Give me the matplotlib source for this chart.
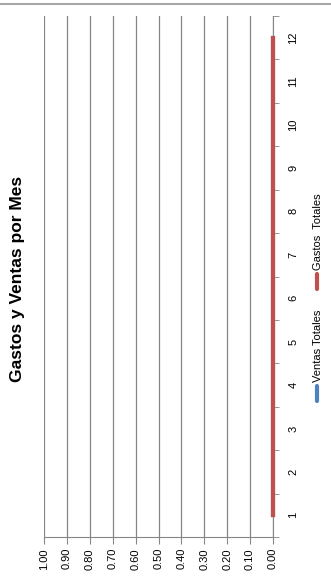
import numpy as np
import matplotlib.pyplot as plt
from matplotlib.lines import Line2D

# data (chart is drawn rotated 90 degrees, as in the original)
months = [1, 2, 3, 4, 5, 6, 7, 8, 9, 10, 11, 12]
ventas = [0, 0, 0, 0, 0, 0, 0, 0, 0, 0, 0, 0]
gastos = [0, 0, 0, 0, 0, 0, 0, 0, 0, 0, 0, 0]
value_ticks = [0.0, 0.1, 0.2, 0.3, 0.4, 0.5, 0.6, 0.7, 0.8, 0.9, 1.0]

plt.rcParams['font.family'] = ['Liberation Sans', 'DejaVu Sans']

fig = plt.figure(figsize=(3.31, 5.77), dpi=100)
ax = fig.add_axes([44 / 331, 40 / 577, 229 / 331, 521 / 577])

ax.plot(ventas, months, color='#4F81BD', lw=3, clip_on=False, zorder=3)
ax.plot(gastos, months, color='#C0504D', lw=3, clip_on=False, zorder=4)

ax.set_xlim(1.0, 0.0)
ax.set_ylim(0.5, 12.5)

ax.set_xticks(value_ticks)
ax.set_xticklabels(['%.2f' % v for v in value_ticks], rotation=90, fontsize=8)
ax.grid(axis='x', color='#868686', lw=0.9)
ax.set_axisbelow(True)

ax.yaxis.tick_right()
ax.set_yticks(months)
ax.set_yticklabels([str(m) for m in months], rotation=90, fontsize=8, va='center')
ax.tick_params(axis='y', length=0, pad=11)
ax.set_yticks(np.arange(0.5, 13, 1), minor=True)
ax.tick_params(axis='y', which='minor', length=4, color='#868686', right=True, left=False)
ax.tick_params(axis='x', length=5, color='#868686', pad=3)

for s in ['top', 'left']:
    ax.spines[s].set_visible(False)
ax.spines['right'].set_color('#868686')
ax.spines['bottom'].set_color('#868686')

# title
fig.text(18 / 331, 1 - 279 / 577, 'Gastos y Ventas por Mes', rotation=90,
         fontsize=12.5, fontweight='bold', ha='center', va='center')

# legend drawn rotated
fig.add_artist(Line2D([317 / 331, 317 / 331], [1 - 401 / 577, 1 - 386 / 577],
                      color='#4F81BD', lw=3, solid_capstyle='round'))
fig.text(318 / 331, 1 - 382 / 577, 'Ventas Totales', rotation=90, fontsize=8,
         ha='center', va='bottom')
fig.add_artist(Line2D([317 / 331, 317 / 331], [1 - 289 / 577, 1 - 274 / 577],
                      color='#C0504D', lw=3, solid_capstyle='round'))
fig.text(318 / 331, 1 - 270 / 577, 'Gastos  Totales', rotation=90, fontsize=8,
         ha='center', va='bottom')

# top border line
fig.add_artist(Line2D([0, 1], [1 - 4 / 577, 1 - 4 / 577], color='#A6A6A6', lw=1.5))

fig.savefig('out.png', dpi=100)
